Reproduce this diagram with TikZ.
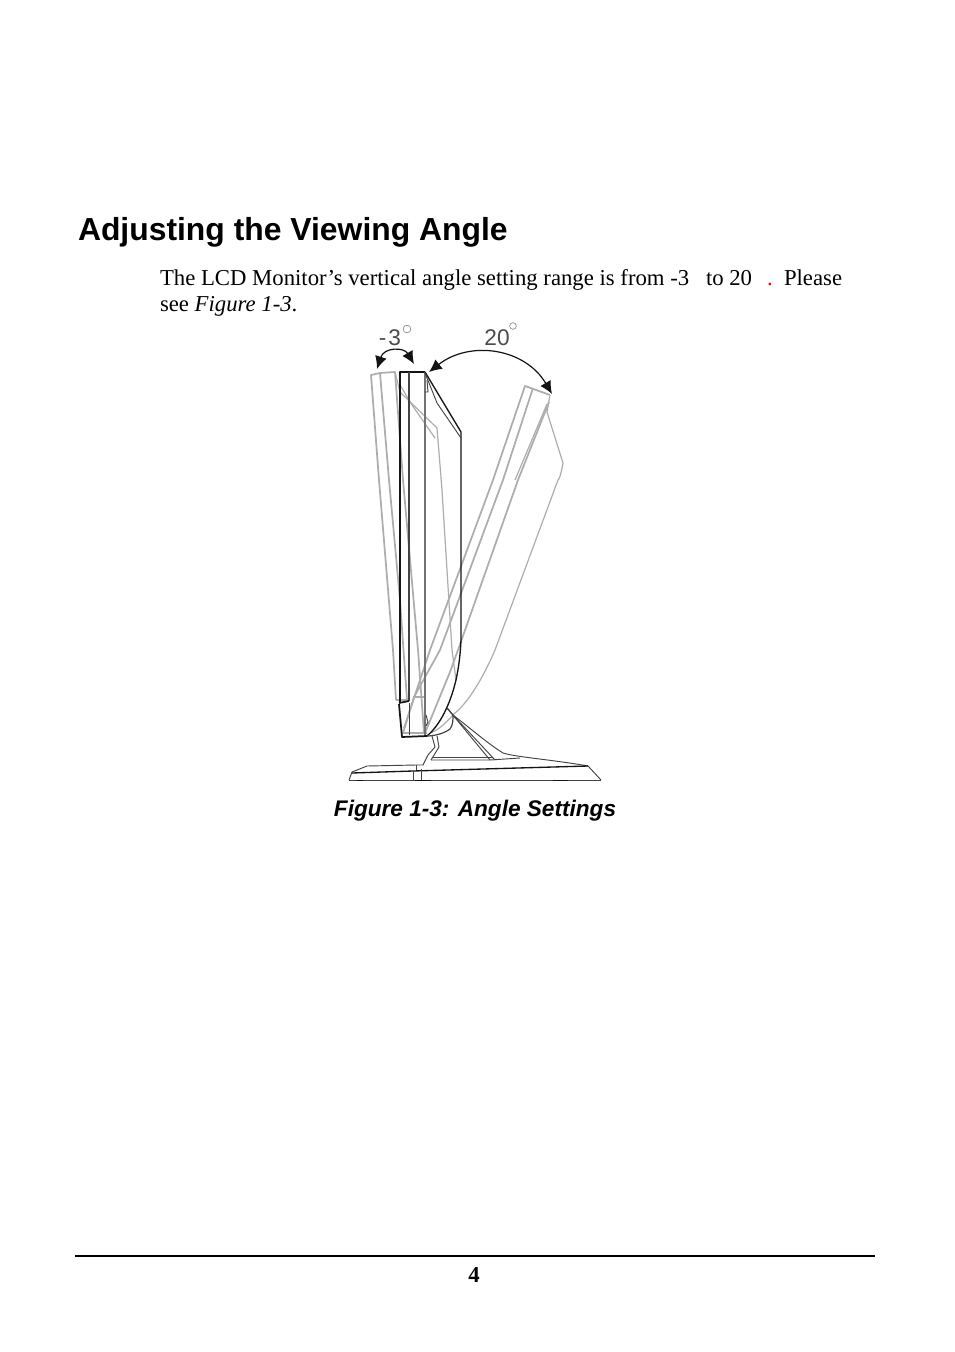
\documentclass[tikz,border=0pt]{standalone}
\usepackage{fontspec}
\setmainfont{Liberation Serif}
\setsansfont{Liberation Sans}
\usetikzlibrary{arrows.meta}
\definecolor{ghost}{gray}{0.68}
\definecolor{ink}{gray}{0.08}
\tikzset{x=0.75pt,y=-0.75pt,
  txt/.style={anchor=base west,inner sep=0pt,outer sep=0pt,font=\fontsize{17.05pt}{20pt}\selectfont,text=black},
  headtxt/.style={anchor=base west,inner sep=0pt,outer sep=0pt,font=\sffamily\bfseries\fontsize{23.9pt}{26pt}\selectfont,text=black},
  captxt/.style={anchor=base,inner sep=0pt,outer sep=0pt,font=\sffamily\bfseries\itshape\fontsize{16.95pt}{20pt}\selectfont,text=black},
  angtxt/.style={anchor=base,inner sep=0pt,outer sep=0pt,font=\sffamily\fontsize{17pt}{18pt}\selectfont,text=black!70},
  grey/.style={draw=ghost,line width=1.3pt,line join=round},
  greythin/.style={draw=ghost,line width=0.9pt,line join=round},
  blk/.style={draw=ink,line width=1.3pt,line join=round},
  blkthin/.style={draw=ink!80,line width=0.7pt,line join=round},
  swing/.style={draw=ink,line width=0.9pt,{Latex[length=9.5pt,width=9pt]}-{Latex[length=9.5pt,width=9pt]}},
  degmark/.style={draw=black!50,line width=0.45pt},
}
\begin{document}
\begin{tikzpicture}
\useasboundingbox (0,0) rectangle (954,1352);
\fill[white] (0,0) rectangle (954,1352);

% text
\node[headtxt] (head) at (78,240) {Adjusting the Viewing Angle};
\node[txt] (l1a) at (160,285) {The LCD Monitor’s vertical angle setting range is from -3};
\node[txt] (l1b) at (706,285) {to 20};
\node[txt,text=red] (l1c) at (767,285) {.};
\node[txt] (l1d) at (784,285) {Please};
\node[txt] (l2) at (160,311) {see \textit{Figure 1-3}.};
\node[captxt] (cap) at (475,816) {Figure 1-3: Angle Settings};
\node[anchor=base,inner sep=0pt,font=\bfseries\fontsize{17.05pt}{20pt}\selectfont] (pg) at (474,1282) {4};
\coordinate (ruleL) at (75,1256);
\coordinate (ruleR) at (875,1256);
\draw[line width=2.2pt] (ruleL) -- (ruleR);

% grey monitor, tilted forward (-3)
\draw[grey] (396,700) -- (393,650) -- (379,480) -- (371,375) -- (380,373) -- (395,372) -- (403,480) -- (418,650) -- (424,733);
\draw[grey] (380,373) -- (389,480) -- (400,600) -- (407,700);
\draw[grey] (396,700) -- (408,700);
\draw[greythin] (395,372) -- (400,392) -- (437,428) -- (442,490) -- (452,650) -- (456,680);
\draw[greythin] (400,385) -- (412,405) -- (435,438);

% grey monitor, tilted back (20)
\draw[grey] (550,395) -- (525,386) -- (493,480) -- (430,650) -- (404,728);
\draw[grey] (533,388) -- (503,480) -- (440,650) -- (414,697) -- (403,733) -- (427,733);
\draw[grey] (414,697) -- (424,697);
\draw[grey] (549,402) -- (518,480) -- (458,650) -- (450,672) -- (425,733);
\draw[greythin] (547,404) -- (515,480);
\draw[greythin] (550,395) -- (547,412) -- (563,463) .. controls (560,480) and (558,480) .. (558,480)
  -- (495,650) .. controls (480,685) and (465,705) .. (455,713) .. controls (448,720) and (440,730) .. (430,733);

% black monitor, upright
\draw[blk] (400,703) -- (400,372) -- (425,372);
\draw[blkthin,line width=1pt] (409,372) -- (409,701);
\draw[blkthin] (409,703) -- (409,735);
\draw[draw=black!55,line width=1.7pt] (425,372) -- (425,735);
\draw[blk] (399,703) -- (409,701);
\draw[blk] (399,704) -- (402,737) -- (427,736);
\draw[blk,line width=1pt] (425,372) -- (461,432) -- (461,640) .. controls (460,660) and (458,670) .. (456,680) .. controls (450,705) and (440,725) .. (427,736);
\draw[blkthin] (425,373) -- (437,403) -- (461,438);
\draw[blkthin] (427,380) -- (428,392) -- (425,392);
\draw[blkthin] (426,715) -- (428,722) -- (426,726);

% stand
\draw[blkthin,line width=0.9pt] (447,708) -- (453,715) .. controls (453,720) and (453,725) .. (450,729) .. controls (445,733) and (435,736) .. (427,736);
\draw[blkthin] (447,708) -- (490,760);
\draw[blkthin] (453,715) -- (495,760);
\draw[blkthin] (432,736) -- (435,747) -- (428,755) -- (423,765) -- (416,765) -- (367,766) -- (352,772) -- (349,780);
\draw[blkthin] (437,736) -- (439,747) -- (431,760);
\draw[blkthin] (432,757) -- (493,757);
\draw[blkthin] (431,760) -- (490,760) -- (520,758);
\draw[blkthin] (453,715) .. controls (470,728) and (487,743) .. (503,753) .. controls (515,757) and (555,760) .. (588,766) -- (601,780);
\draw[blk,line width=1pt] (352,773) -- (413,771) -- (588,766);
\draw[blkthin] (349,780) -- (601,780);
\draw[blkthin] (416,765) -- (416,770);
\draw[blkthin] (413,771) -- (413,780);
\draw[blkthin] (421,769) -- (421,780);
\draw[blk,line width=1.1pt] (357,780.5) -- (363,780.5);
\draw[blk,line width=1.1pt] (415,780.5) -- (431,780.5);
\draw[blk,line width=1.1pt] (553,780.5) -- (568,780.5);

% angle arrows
\coordinate (a1) at (377,369);
\coordinate (a2) at (414,364);
\coordinate (b1) at (429,372);
\coordinate (b2) at (552,394);
\draw[swing] (a1) .. controls (384,347) and (404,347) .. (a2);
\draw[swing] (b1) .. controls (470,340) and (525,348) .. (b2);

\node[angtxt] (m3) at (390,345) {-\kern1.5pt 3};
\node[angtxt] (p20) at (497,345) {20};
\node[degmark,circle,minimum size=5.8pt,inner sep=0pt] (d1) at (407,329) {};
\node[degmark,circle,minimum size=5pt,inner sep=0pt] (d2) at (513,326) {};
\end{tikzpicture}
\end{document}
